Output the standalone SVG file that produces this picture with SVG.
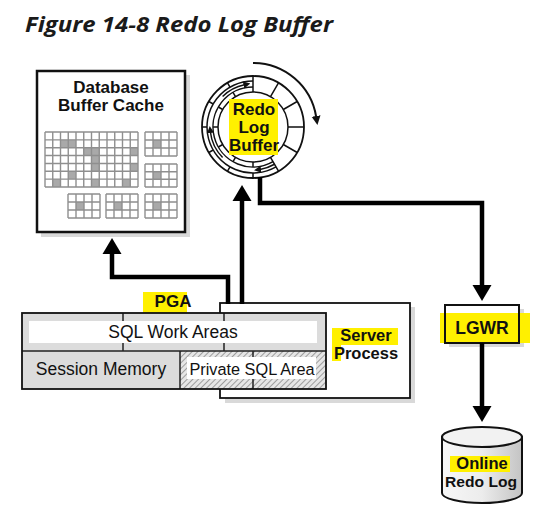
<svg xmlns="http://www.w3.org/2000/svg" width="559" height="511" viewBox="0 0 559 511">
<style>
  .t{font-family:"Liberation Sans",Arial,sans-serif;fill:#111;}
  .b{font-weight:bold;}
  .hl{fill:#FFF000;}
  .box{fill:#fff;stroke:#111;}
  .shadow{fill:#d9d9d9;}
  .grid{fill:none;stroke:#8f8f8f;stroke-width:1.4;}
  .cell{fill:#a9a9a9;}
  .ring{fill:none;stroke:#111;stroke-width:1.5;}
  .conn{fill:none;stroke:#000;stroke-width:4.5;stroke-linejoin:miter;}
</style>
<defs>
  <marker id="ah" viewBox="0 -10 16 20" refX="0" refY="0" markerWidth="16" markerHeight="20" markerUnits="userSpaceOnUse" orient="auto">
    <path d="M0,-9.5 L16,0 L0,9.5 z" fill="#000"/>
  </marker>
  <marker id="sa" viewBox="0 -4 7 8" refX="1" refY="0" markerWidth="7" markerHeight="8" markerUnits="userSpaceOnUse" orient="auto">
    <path d="M0,-3.5 L7,0 L0,3.5 z" fill="#111"/>
  </marker>
  <marker id="ma" viewBox="0 -5 9 10" refX="1" refY="0" markerWidth="9" markerHeight="10" markerUnits="userSpaceOnUse" orient="auto">
    <path d="M0,-4.5 L9,0 L0,4.5 z" fill="#111"/>
  </marker>
  <pattern id="hatch" width="4" height="4" patternUnits="userSpaceOnUse" patternTransform="rotate(45)">
    <rect width="4" height="4" fill="#e6e6e6"/>
    <line x1="0" y1="0" x2="0" y2="4" stroke="#8a8a8a" stroke-width="1.6"/>
  </pattern>
  <linearGradient id="cyl" x1="0" y1="0" x2="1" y2="0">
    <stop offset="0" stop-color="#f7f7f7"/>
    <stop offset="0.5" stop-color="#ececec"/>
    <stop offset="1" stop-color="#c4c4c4"/>
  </linearGradient>
</defs>

<text x="25" y="32" textLength="308" lengthAdjust="spacingAndGlyphs" style="font-family:'Open Sans','Noto Sans',sans-serif;font-weight:bold;font-style:italic;font-size:20.5px;fill:#1a1a1a;">Figure 14-8 Redo Log Buffer</text>

<g id="db-buffer-cache">
  <rect class="shadow" x="41" y="75" width="149" height="162"/>
  <rect class="box" x="37" y="71" width="148" height="161" stroke-width="2.5"/>
  <text class="t b" x="111" y="93" text-anchor="middle" font-size="17">Database</text>
  <text class="t b" x="111" y="111" text-anchor="middle" font-size="17">Buffer Cache</text>
  <g>
    <rect class="cell" x="60.5" y="139.86" width="15.5" height="7.86"/>
    <rect class="cell" x="83.75" y="147.71" width="7.75" height="7.86"/>
    <rect class="cell" x="91.5" y="147.71" width="7.75" height="23.58"/>
    <rect class="cell" x="130.25" y="147.71" width="7.75" height="7.86"/>
    <rect class="cell" x="130.25" y="163.43" width="7.75" height="7.86"/>
    <rect class="cell" x="68.25" y="171.29" width="7.75" height="7.86"/>
    <rect class="cell" x="52.75" y="179.14" width="7.75" height="7.86"/>
    <rect class="cell" x="91.5" y="179.14" width="7.75" height="7.86"/>
    <rect class="cell" x="122.5" y="179.14" width="7.75" height="7.86"/>
    <path class="grid" d="M45,132V187M52.75,132V187M60.5,132V187M68.25,132V187M76,132V187M83.75,132V187M91.5,132V187M99.25,132V187M107,132V187M114.75,132V187M122.5,132V187M130.25,132V187M138,132V187M45,132H138M45,139.86H138M45,147.71H138M45,155.57H138M45,163.43H138M45,171.29H138M45,179.14H138M45,187H138"/>
  </g>
  <g>
    <rect class="cell" x="153" y="140" width="8" height="8"/>
    <path class="grid" d="M145,132V156M153,132V156M161,132V156M169,132V156M177,132V156M145,132H177M145,140H177M145,148H177M145,156H177"/>
  </g>
  <g>
    <rect class="cell" x="153" y="171.7" width="8" height="7.7"/>
    <path class="grid" d="M145,164V187M153,164V187M161,164V187M169,164V187M177,164V187M145,164H177M145,171.7H177M145,179.3H177M145,187H177"/>
  </g>
  <g>
    <rect class="cell" x="76" y="202" width="8" height="8"/>
    <path class="grid" d="M68,194V218M76,194V218M84,194V218M92,194V218M100,194V218M68,194H100M68,202H100M68,210H100M68,218H100"/>
  </g>
  <g>
    <rect class="cell" x="114" y="202" width="8" height="8"/>
    <path class="grid" d="M106,194V218M114,194V218M122,194V218M130,194V218M138,194V218M106,194H138M106,202H138M106,210H138M106,218H138"/>
  </g>
  <g>
    <rect class="cell" x="153" y="202" width="8" height="8"/>
    <path class="grid" d="M145,194V218M153,194V218M161,194V218M169,194V218M177,194V218M145,194H177M145,202H177M145,210H177M145,218H177"/>
  </g>
</g>

<g id="redo-log-buffer">
  <circle cx="253" cy="127" r="51" fill="#fff" stroke="#111" stroke-width="1.8"/>
  <circle class="ring" cx="253" cy="127" r="35"/>
  <path class="ring" d="M276,166.84 A46,46 0 1 1 253,81"/>
  <path class="ring" d="M273,161.64 A40,40 0 1 1 253,87"/>
  <path class="ring" d="M253,92L253,76M270.5,96.69L278.5,82.83M283.31,109.5L297.17,101.5M288,127L304,127M283.31,144.5L297.17,152.5M270.5,157.31L278.5,171.17"/>
  <path class="ring" d="M253,173L253,178M253,162L253,167M230,166.84L227.5,171.17M235.5,157.31L233,161.64M213.16,150L208.83,152.5M222.69,144.5L218.36,147M207,127L202,127M218,127L213,127M213.16,104L208.83,101.5M222.69,109.5L218.36,107M230,87.16L227.5,82.83M235.5,96.69L233,92.36"/>
  <path class="ring" stroke-width="1.2" d="M222.59,96.59 A43,43 0 0 1 244.5,84.8" marker-end="url(#sa)"/>
  <path class="ring" stroke-width="1.2" d="M222.59,157.41 A43,43 0 0 1 210.4,132" marker-end="url(#sa)"/>
  <path class="ring" stroke-width="1.2" d="M274.5,164.24 A43,43 0 0 1 260,169.4" marker-end="url(#sa)"/>
  <path fill="none" stroke="#111" stroke-width="2" d="M253,63 A64,64 0 0 1 316.2,117" marker-end="url(#ma)"/>
  <rect class="hl" x="229" y="99" width="49" height="56"/>
  <text class="t b" x="254" y="115" text-anchor="middle" font-size="17">Redo</text>
  <text class="t b" x="254" y="133" text-anchor="middle" font-size="17">Log</text>
  <text class="t b" x="254" y="151" text-anchor="middle" font-size="17">Buffer</text>
</g>

<g id="server-process">
  <rect class="shadow" x="225" y="307" width="190" height="96"/>
  <rect class="box" x="220" y="303" width="190" height="95" stroke-width="1.8"/>
  <rect class="hl" x="332" y="328" width="66" height="17"/>
  <rect class="hl" x="332" y="345" width="9" height="16"/>
  <text class="t b" x="366" y="341" text-anchor="middle" font-size="16.5">Server</text>
  <text class="t b" x="366" y="359" text-anchor="middle" font-size="16.5">Process</text>
</g>

<g id="pga">
  <rect class="hl" x="143" y="292" width="44" height="23"/>
  <text class="t b" x="173" y="307" text-anchor="middle" font-size="17">PGA</text>
  <rect x="22" y="313" width="304" height="38" fill="#dcdcdc"/>
  <rect x="29" y="321" width="288" height="22" fill="#fff"/>
  <rect x="22" y="351" width="158" height="38" fill="#dcdcdc"/>
  <rect x="180" y="351" width="146" height="38" fill="url(#hatch)"/>
  <rect x="187" y="357" width="129" height="22" fill="#fff"/>
  <path fill="none" stroke="#222" stroke-width="1.5" d="M22,351H326M180,351V389M123,313V321M123,343V351M224,313V321M224,343V351M253,351V357M253,379V389"/>
  <rect x="22" y="313" width="304" height="76" fill="none" stroke="#111" stroke-width="1.8"/>
  <text class="t" x="173" y="338" text-anchor="middle" font-size="17.5">SQL Work Areas</text>
  <text class="t" x="101" y="375" text-anchor="middle" font-size="17.5">Session Memory</text>
  <text class="t" x="252" y="375" text-anchor="middle" font-size="16.3">Private SQL Area</text>
</g>

<g id="lgwr">
  <rect class="shadow" x="449" y="309" width="75" height="38"/>
  <rect class="box" x="445" y="305" width="74" height="38" stroke-width="2"/>
  <rect class="hl" x="440" y="313" width="90" height="30"/>
  <path fill="none" stroke="#111" stroke-width="2" d="M445,313V343H519V313"/>
  <text class="t b" x="482" y="334" text-anchor="middle" font-size="17.5">LGWR</text>
</g>

<g id="online-redo-log">
  <path d="M442,437 V493 A40,10 0 0 0 522,493 V437 z" fill="url(#cyl)" stroke="#111" stroke-width="2"/>
  <ellipse cx="482" cy="437" rx="40" ry="10" fill="#f2f2f2" stroke="#111" stroke-width="2"/>
  <rect class="hl" x="450" y="456" width="60" height="16"/>
  <text class="t b" x="482" y="469" text-anchor="middle" font-size="16.5">Online</text>
  <text class="t b" x="481" y="487" text-anchor="middle" font-size="15.5" textLength="72" lengthAdjust="spacingAndGlyphs">Redo Log</text>
</g>

<g id="connectors">
  <path class="conn" d="M228,304 V277 H112 V254" marker-end="url(#ah)"/>
  <path class="conn" d="M242,304 V201" marker-end="url(#ah)"/>
  <path class="conn" d="M260,177 V203 H482 V285" marker-end="url(#ah)"/>
  <path class="conn" d="M482,343 V406" marker-end="url(#ah)"/>
</g>
</svg>
